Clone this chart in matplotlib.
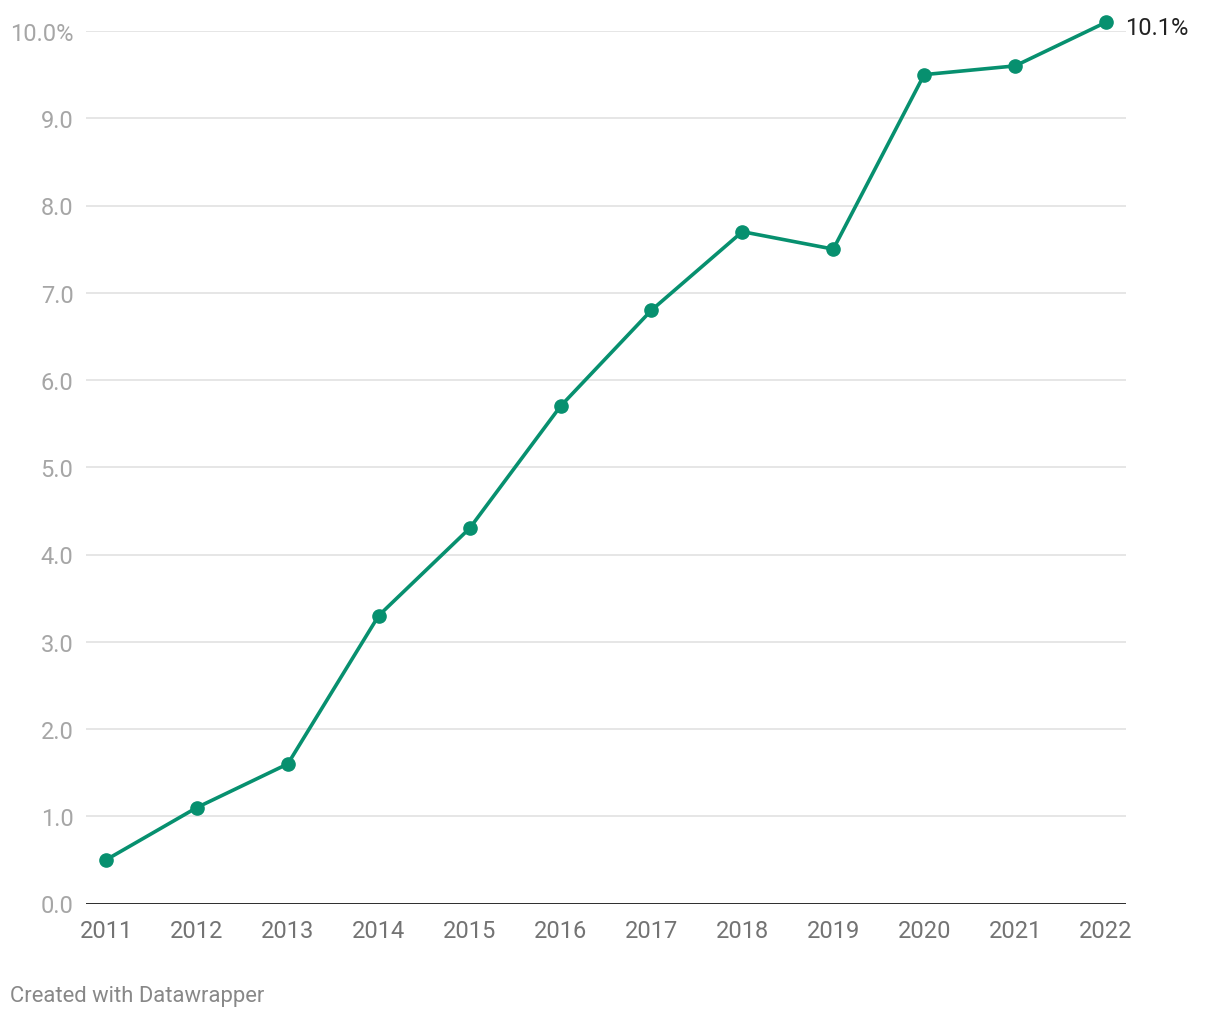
import matplotlib
matplotlib.use("Agg")
from matplotlib import pyplot as plt

plt.rcParams['font.family'] = ['Roboto', 'DejaVu Sans']

years = [2011, 2012, 2013, 2014, 2015, 2016, 2017, 2018, 2019, 2020, 2021, 2022]
values = [0.5, 1.1, 1.6, 3.3, 4.3, 5.7, 6.8, 7.7, 7.5, 9.5, 9.6, 10.1]
yticks = [0, 1, 2, 3, 4, 5, 6, 7, 8, 9, 10]
ylabels = ['0.0', '1.0', '2.0', '3.0', '4.0', '5.0', '6.0', '7.0', '8.0', '9.0', '10.0%']

green = '#07906f'

fig = plt.figure(figsize=(12.2, 10.2), dpi=100)
ax = fig.add_axes([86 / 1220, 115.5 / 1020, 1040 / 1220, 872.5 / 1020])

ax.plot(years, values, color=green, lw=2.6, marker='o', ms=9.5,
        clip_on=False, zorder=3)

ax.set_xlim(2011 - 20 / 90.9, 2022 + 20 / 90.9)
ax.set_ylim(0, 10)

ax.set_yticks(yticks)
ax.set_yticklabels(ylabels)
ax.set_xticks(years)
ax.set_xticklabels([str(y) for y in years])

for y in yticks[1:]:
    ax.axhline(y, color='#e2e2e2', lw=1.2, zorder=1)
ax.axhline(0, color='#1a1a1a', lw=2, zorder=2)

for s in ax.spines.values():
    s.set_visible(False)

ax.tick_params(axis='y', length=0, pad=9, labelsize=17, labelcolor='#a6a6a6')
ax.tick_params(axis='x', length=0, pad=11, labelsize=17, labelcolor='#737373')

ax.annotate('10.1%', xy=(years[-1], values[-1]), xytext=(14, -4),
            textcoords='offset points', ha='left', va='center',
            fontsize=17, color='#222222', annotation_clip=False)

fig.text(10 / 1220, 1 - 997 / 1020, 'Created with Datawrapper', ha='left',
         va='center', fontsize=15.8, color='#888888')

fig.savefig('out.png', dpi=100, facecolor='white')
